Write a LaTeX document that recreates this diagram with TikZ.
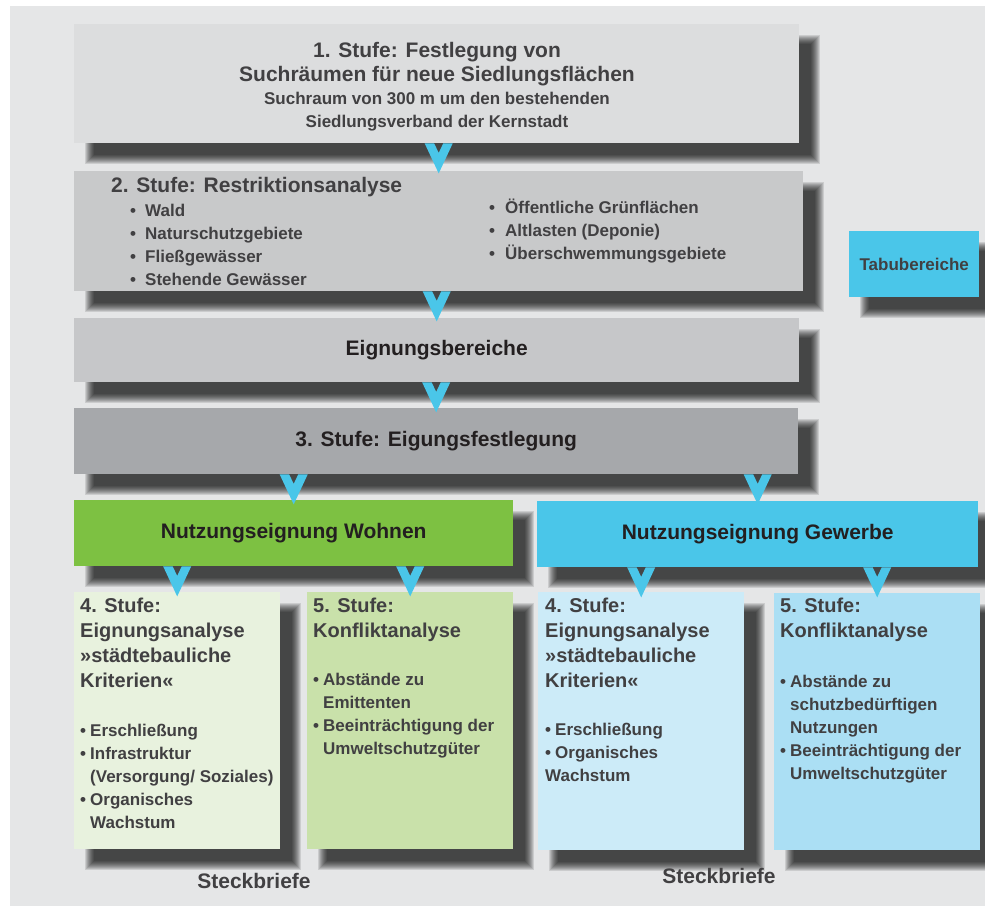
\documentclass[tikz,border=0pt]{standalone}
\usepackage{fontspec}
\setmainfont{Liberation Sans}
\usetikzlibrary{calc}
\definecolor{pagegrey}{HTML}{E5E6E7}
\definecolor{stufeeins}{HTML}{DCDDDE}
\definecolor{stufezwei}{HTML}{C8C9CA}
\definecolor{eignung}{HTML}{C6C7C9}
\definecolor{stufedrei}{HTML}{A6A8AB}
\definecolor{wohngruen}{HTML}{7DC142}
\definecolor{gewerbeblau}{HTML}{4AC6E9}
\definecolor{wohnhell}{HTML}{E8F2DE}
\definecolor{wohnmittel}{HTML}{C9E1AA}
\definecolor{gewerbehell}{HTML}{CCEBF8}
\definecolor{gewerbemittel}{HTML}{ABDFF4}
\definecolor{textgrey}{HTML}{414042}
\definecolor{textdark}{HTML}{231F20}

\pgfdeclarelayer{seite}
\pgfdeclarelayer{schatten}
\pgfsetlayers{seite,schatten,main}

\newcommand{\bul}{\makebox[10pt][l]{•}}
\newcommand{\ind}{\hspace*{10pt}}

\tikzset{
  box/.style={rectangle, inner sep=0pt, anchor=north west},
  head/.style={text=textgrey, font=\bfseries\fontsize{21}{24}\selectfont},
  lines/.style={text=textgrey, inner sep=0pt, anchor=north west, align=left},
  titel/.style={lines, font=\bfseries\fontsize{20}{25}\selectfont},
  punkte/.style={lines, font=\bfseries\fontsize{17}{23}\selectfont},
  chev/.pic={\fill[gewerbeblau] (-14,0) -- (-4.5,0) -- (0,9.5) -- (4.5,0) -- (14,0) -- (0,30) -- cycle;}
}

\begin{document}
\begin{tikzpicture}[x=1pt,y=-1pt]
    \useasboundingbox (0,0) rectangle (985,906);
    \begin{pgfonlayer}{seite}
      \fill[white] (0,0) rectangle (985,906);
      \fill[pagegrey] (10,6) rectangle (985,906);
    \end{pgfonlayer}

    % obere Stufen
    \node[box, fill=stufeeins, minimum width=725pt, minimum height=119pt] (b1) at (74,24) {};
    \node[head, anchor=north, align=center, inner sep=0pt] (b1t) at (437,41.7) {1. Stufe: Festlegung von\\Suchräumen für neue Siedlungsflächen};
    \node[punkte, anchor=north, align=center] (b1u) at (437,91.6) {Suchraum von 300 m um den bestehenden\\Siedlungsverband der Kernstadt};

    \node[box, fill=stufezwei, minimum width=729pt, minimum height=120pt] (b2) at (74,171) {};
    \node[head, anchor=north west, inner sep=0pt] (b2t) at (111,176.7) {2. Stufe: Restriktionsanalyse};
    \node[punkte] (b2l) at (130,203.6) {\makebox[15pt][l]{•}Wald\\\makebox[15pt][l]{•}Naturschutzgebiete\\\makebox[15pt][l]{•}Fließgewässer\\\makebox[15pt][l]{•}Stehende Gewässer};
    \node[punkte] (b2r) at (489,198.5) {\makebox[16pt][l]{•}Öffentliche Grünflächen\\\makebox[16pt][l]{•}Altlasten (Deponie)\\\makebox[16pt][l]{•}Überschwemmungsgebiete};

    \node[box, fill=gewerbeblau, minimum width=130pt, minimum height=66pt, text=textgrey, font=\bfseries\fontsize{17}{20}\selectfont] (tabu) at (849,231) {Tabubereiche};

    \node[box, fill=eignung, minimum width=725pt, minimum height=64pt, text=textdark, font=\bfseries\fontsize{21}{24}\selectfont] (eign) at (74,318) {Eignungsbereiche};
    \node[box, fill=stufedrei, minimum width=724pt, minimum height=66pt, text=textdark, font=\bfseries\fontsize{21}{24}\selectfont] (b3) at (74,408) {3. Stufe: Eigungsfestlegung};

    % Nutzungen
    \node[box, fill=wohngruen, minimum width=439pt, minimum height=66pt, text=textdark, font=\bfseries\fontsize{21}{24}\selectfont] (wohnen) at (74,500) {Nutzungseignung Wohnen};
    \node[box, fill=gewerbeblau, minimum width=441pt, minimum height=66pt, text=textdark, font=\bfseries\fontsize{21}{24}\selectfont] (gewerbe) at (537,501) {Nutzungseignung Gewerbe};

    % Steckbriefe
    \node[box, fill=wohnhell, minimum width=206pt, minimum height=257pt] (w4) at (74,592) {};
    \node[box, fill=wohnmittel, minimum width=206pt, minimum height=257pt] (w5) at (307,592) {};
    \node[box, fill=gewerbehell, minimum width=206pt, minimum height=258pt] (g4) at (538,592) {};
    \node[box, fill=gewerbemittel, minimum width=206pt, minimum height=257pt] (g5) at (774,593) {};

    \node[titel] (w4t) at (80,597.4) {4. Stufe:\\Eignungsanalyse\\»städtebauliche\\Kriterien«};
    \node[punkte] (w4p) at (80,723.6) {\bul Erschließung\\\bul Infrastruktur\\\ind(Versorgung/ Soziales)\\\bul Organisches\\\ind Wachstum};
    \node[titel] (w5t) at (313,597.4) {5. Stufe:\\Konfliktanalyse};
    \node[punkte] (w5p) at (313,672.6) {\bul Abstände zu\\\ind Emittenten\\\bul Beeinträchtigung der\\\ind Umweltschutzgüter};
    \node[titel] (g4t) at (545,597.4) {4. Stufe:\\Eignungsanalyse\\»städtebauliche\\Kriterien«};
    \node[punkte] (g4p) at (545,722.6) {\bul Erschließung\\\bul Organisches\\Wachstum};
    \node[titel] (g5t) at (780,597.4) {5. Stufe:\\Konfliktanalyse};
    \node[punkte] (g5p) at (780,674.6) {\bul Abstände zu\\\ind schutzbedürftigen\\\ind Nutzungen\\\bul Beeinträchtigung der\\\ind Umweltschutzgüter};

    \node[head, anchor=base] (steckw) at (254,888) {Steckbriefe};
    \node[head, anchor=base] (steckg) at (719,883) {Steckbriefe};

    % weiche Schatten
    \begin{pgfonlayer}{schatten}
      \foreach \n in {b1,b2,tabu,eign,b3,wohnen,gewerbe,w4,w5,g4,g5}
        \foreach \r in {-5,...,4}
          \fill[black, opacity=0.11] ($(\n.north west)+(16+\r,16+\r)$) rectangle ($(\n.south east)+(16-\r,16-\r)$);
    \end{pgfonlayer}

    % Pfeile
    \pic at (b2.north |- b1.south) {chev};
    \pic at (eign.north |- b2.south) {chev};
    \pic at (b3.north |- eign.south) {chev};
    \pic at (wohnen.north |- b3.south) {chev};
    \pic at (gewerbe.north |- b3.south) {chev};
    \pic at (w4.north |- wohnen.south) {chev};
    \pic at (w5.north |- wohnen.south) {chev};
    \pic at (g4.north |- gewerbe.south) {chev};
    \pic at (g5.north |- gewerbe.south) {chev};
  \end{tikzpicture}
\end{document}
